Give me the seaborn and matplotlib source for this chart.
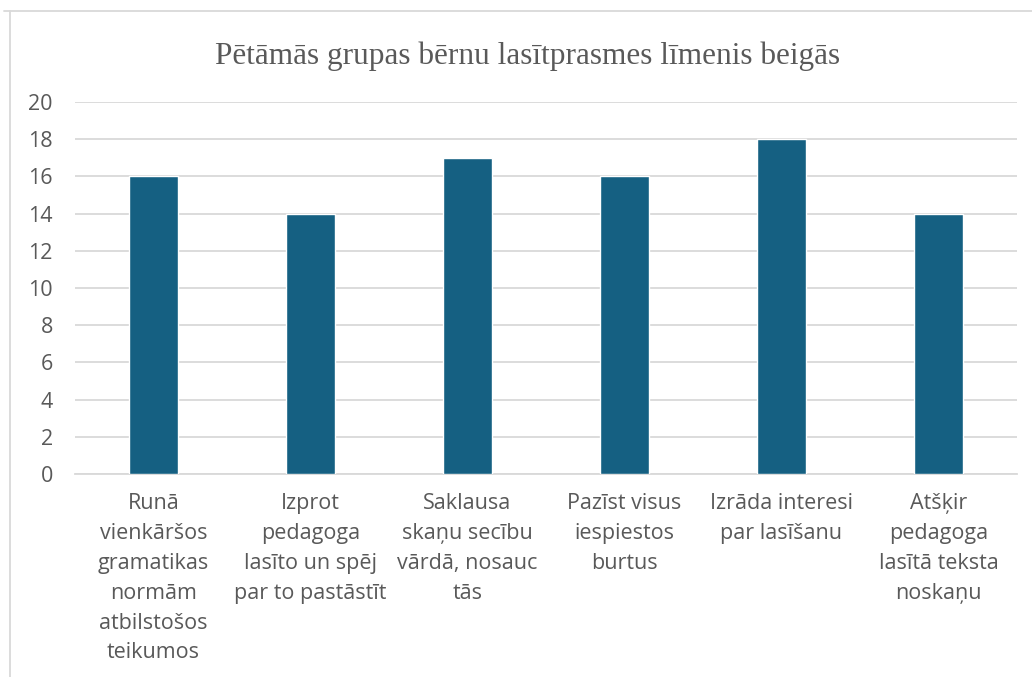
import matplotlib
matplotlib.use("Agg")
import matplotlib.pyplot as plt
import seaborn as sns
import pandas as pd

categories = [
    "Runā\nvienkāršos\ngramatikas\nnormām\natbilstošos\nteikumos",
    "Izprot\npedagoga\nlasīto un spēj\npar to pastāstīt",
    "Saklausa\nskaņu secību\nvārdā, nosauc\ntās",
    "Pazīst visus\niespiestos\nburtus",
    "Izrāda interesi\npar lasīšanu",
    "Atšķir\npedagoga\nlasītā teksta\nnoskaņu",
]
values = [16, 14, 17, 16, 18, 14]
yticks = [0, 2, 4, 6, 8, 10, 12, 14, 16, 18, 20]
title = "Pētāmās grupas bērnu lasītprasmes līmenis beigās"

sns.set_theme(style="white")
plt.rcParams["font.family"] = ["Open Sans", "DejaVu Sans"]

W, H = 1032, 677
fig = plt.figure(figsize=(W / 100, H / 100), dpi=100)
ax = fig.add_axes([75 / W, 1 - 474 / H, (1017 - 75) / W, (474 - 102) / H])

df = pd.DataFrame({"cat": categories, "val": values})
sns.barplot(data=df, x="cat", y="val", color="#156082", width=0.31,
            saturation=1, ax=ax, zorder=3)

ax.set_ylim(0, 20)
ax.set_yticks(yticks)
ax.set_yticklabels([str(t) for t in yticks])
ax.grid(axis="y", color="#d9d9d9", linewidth=1.3, zorder=0)
ax.grid(axis="x", visible=False)
for s in ["top", "right", "left"]:
    ax.spines[s].set_visible(False)
ax.spines["bottom"].set_color("#d9d9d9")
ax.spines["bottom"].set_linewidth(1.3)
ax.set_xlabel("")
ax.set_ylabel("")
ax.tick_params(axis="both", length=0, labelsize=15.5, labelcolor="#595959")
ax.tick_params(axis="x", pad=14)
ax.tick_params(axis="y", pad=16)
for lbl in ax.get_xticklabels():
    lbl.set_linespacing(1.55)
    lbl.set_verticalalignment("top")

fig.text(528 / W, 1 - 56 / H, title, ha="center", va="center",
         fontsize=22.5, color="#595959", family=["Liberation Serif", "DejaVu Serif"])

# chart frame
fig.add_artist(plt.Line2D([4 / W, 1], [1 - 11 / H, 1 - 11 / H], color="#d9d9d9", linewidth=1.3,
                          transform=fig.transFigure))
fig.add_artist(plt.Line2D([10 / W, 10 / W], [0, 1 - 11 / H], color="#d9d9d9", linewidth=1.3,
                          transform=fig.transFigure))

fig.savefig("out.png", dpi=100, facecolor="white")
